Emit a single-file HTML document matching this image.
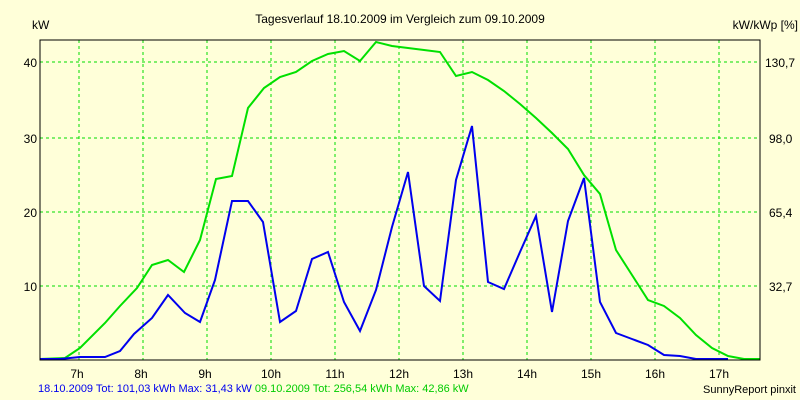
<!DOCTYPE html>
<html><head><style>
body{margin:0;background:#ffffd9;}
svg{display:block;font-family:"Liberation Sans",sans-serif;}
</style></head><body>
<svg width="800" height="400" viewBox="0 0 800 400">
<rect width="800" height="400" fill="#ffffd9"/>
<text x="400" y="23" font-size="12" text-anchor="middle">Tagesverlauf 18.10.2009 im Vergleich zum 09.10.2009</text>
<text x="32" y="29" font-size="12">kW</text>
<text x="798" y="29" font-size="12" text-anchor="end">kW/kWp [%]</text>
<g stroke="#00dd00" stroke-dasharray="3,3" stroke-width="1">
<line x1="79" y1="40" x2="79" y2="360"/><line x1="143" y1="40" x2="143" y2="360"/><line x1="207" y1="40" x2="207" y2="360"/><line x1="271" y1="40" x2="271" y2="360"/><line x1="335" y1="40" x2="335" y2="360"/><line x1="399" y1="40" x2="399" y2="360"/><line x1="463" y1="40" x2="463" y2="360"/><line x1="527" y1="40" x2="527" y2="360"/><line x1="591" y1="40" x2="591" y2="360"/><line x1="655" y1="40" x2="655" y2="360"/><line x1="719" y1="40" x2="719" y2="360"/>
<line x1="40" y1="62" x2="760" y2="62"/><line x1="40" y1="138" x2="760" y2="138"/><line x1="40" y1="212" x2="760" y2="212"/><line x1="40" y1="286" x2="760" y2="286"/>
</g>
<g font-size="12" text-anchor="end">
<text x="37" y="67">40</text><text x="37" y="143">30</text><text x="37" y="217">20</text><text x="37" y="291">10</text>
</g>
<g font-size="12" text-anchor="middle">
<text x="765" y="67" text-anchor="start">130,7</text><text x="769" y="143" text-anchor="start">98,0</text><text x="769" y="217" text-anchor="start">65,4</text><text x="769" y="291" text-anchor="start">32,7</text>
<text x="77" y="378">7h</text><text x="141" y="378">8h</text><text x="205" y="378">9h</text><text x="271" y="378">10h</text><text x="335" y="378">11h</text><text x="399" y="378">12h</text><text x="463" y="378">13h</text><text x="527" y="378">14h</text><text x="591" y="378">15h</text><text x="655" y="378">16h</text><text x="719" y="378">17h</text>
</g>
<polyline fill="none" stroke="#00e000" stroke-width="2" points="40,359 65,358 80,348 105,323 120,306 137,288 152,265 168,260 184,272 200,240 216,179 232,176 248,108 264,88 280,77 296,72 312,61 328,54 344,51 360,61 376,42 392,46 408,48 424,50 440,52 456,76 472,72 488,80 504,91 520,104 536,118 552,133 568,149 584,175 600,194 616,250 632,275 648,300 664,306 680,318 696,335 712,348 728,356 744,359 760,359"/>
<polyline fill="none" stroke="#0000ee" stroke-width="2" points="40,359 60,359 80,357 105,357 120,351 134,334 152,318 168,295 185,313 200,322 215,280 232,201 248,201 263,222 280,322 296,311 312,259 328,252 344,302 360,331 376,290 392,227 408,172 424,286 440,301 456,180 472,126 488,282 504,289 520,252 536,216 552,312 568,221 584,178 600,302 616,333 632,339 648,345 664,355 680,356 696,359 728,359"/>
<rect x="40" y="40" width="720" height="320" fill="none" stroke="#000" stroke-width="1"/>
<text x="38" y="392" font-size="11"><tspan fill="#0000ee">18.10.2009 Tot: 101,03 kWh Max: 31,43 kW </tspan><tspan fill="#00cc00">09.10.2009 Tot: 256,54 kWh Max: 42,86 kW</tspan></text>
<text x="796" y="393" font-size="11" text-anchor="end">SunnyReport pinxit</text>
</svg>
</body></html>
